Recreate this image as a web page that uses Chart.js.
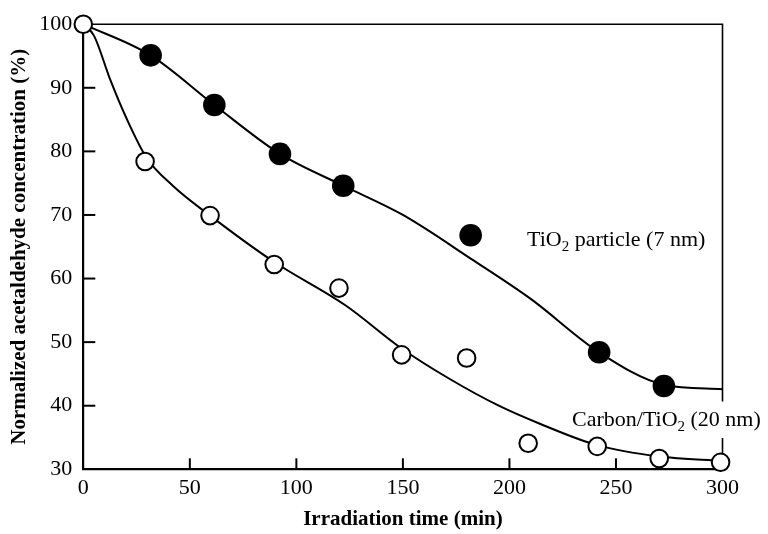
<!DOCTYPE html>
<html><head><meta charset="utf-8">
<script src="https://cdn.jsdelivr.net/npm/chart.js@4.4.0/dist/chart.umd.min.js"></script>
<style>html,body{margin:0;padding:0;background:#fff}</style>
</head><body>
<canvas id="c" width="768" height="534"></canvas>
<script>
// ---- data ----
const xTicks = [0, 50, 100, 150, 200, 250, 300];
const yTicks = [30, 40, 50, 60, 70, 80, 90, 100];

// TiO2 particle (7 nm) - filled circles
const tio2Time = [0, 31.6, 61.5, 92.3, 122.0, 181.8, 242.1, 272.5];
const tio2Conc = [100, 95.1, 87.3, 79.6, 74.6, 66.8, 48.4, 43.1];
// Carbon/TiO2 (20 nm) - open circles
const carbonTime = [0, 29.0, 59.5, 89.6, 120.0, 149.4, 179.9, 208.8, 241.2, 270.3, 299.1];
const carbonConc = [100, 78.4, 69.9, 62.2, 58.5, 48.0, 47.5, 34.1, 33.6, 31.7, 31.1];

// fitted curves
const tio2FitTime = [0, 31.6, 61.5, 92.3, 122, 150, 182, 210, 242.1, 272.5, 300];
const tio2FitConc = [100, 95.1, 87.3, 79.6, 74.6, 70.0, 63.1, 56.8, 48.4, 43.3, 42.6];
const carbonFitTime = [0, 5, 12.5, 20, 29.7, 42, 59.5, 89.6, 123, 149.4, 172, 195, 214, 241, 270.6, 300];
const carbonFitConc = [100, 98.2, 91.4, 85.4, 79.0, 74.6, 69.9, 62.6, 55.8, 49.0, 44.2, 40.0, 37.2, 33.8, 32.0, 31.3];

const labelTiO2 = ['TiO', '2', ' particle (7 nm)'];
const labelCarbon = ['Carbon/TiO', '2', ' (20 nm)'];

const toXY = (xs, ys) => xs.map((x, i) => ({x, y: ys[i]}));
const FONT = '"Liberation Serif", "Times New Roman", serif';

const decor = {
  id: 'decor',
  beforeDatasetsDraw(chart) {
    const {ctx, chartArea: a, scales: {x, y}} = chart;
    ctx.save();
    ctx.strokeStyle = '#000';
    ctx.lineCap = 'butt';
    ctx.lineWidth = 2;
    xTicks.forEach(v => {
      if (v === 0 || v === 300) return;
      const px = x.getPixelForValue(v);
      ctx.beginPath(); ctx.moveTo(px, a.bottom); ctx.lineTo(px, a.bottom - 11); ctx.stroke();
    });
    yTicks.forEach(v => {
      if (v === 30 || v === 100) return;
      const py = y.getPixelForValue(v);
      ctx.beginPath(); ctx.moveTo(a.left, py); ctx.lineTo(a.left + 12, py); ctx.stroke();
    });
    ctx.lineWidth = 1.6;
    ctx.beginPath();
    ctx.moveTo(a.left, a.top); ctx.lineTo(a.right, a.top);
    ctx.lineTo(a.right, 401.5);
    ctx.moveTo(a.right, 438); ctx.lineTo(a.right, a.bottom);
    ctx.stroke();
    ctx.restore();
  },
  afterDraw(chart) {
    const {ctx} = chart;
    const drawLabel = (parts, x0, base) => {
      ctx.save();
      ctx.fillStyle = '#000';
      ctx.textBaseline = 'alphabetic';
      ctx.textAlign = 'left';
      let xx = x0;
      ctx.font = '22px ' + FONT;
      ctx.fillText(parts[0], xx, base); xx += ctx.measureText(parts[0]).width;
      ctx.font = '15px ' + FONT;
      ctx.fillText(parts[1], xx, base + 5); xx += ctx.measureText(parts[1]).width;
      ctx.font = '22px ' + FONT;
      ctx.fillText(parts[2], xx, base);
      ctx.restore();
    };
    drawLabel(labelTiO2, 527, 246);
    drawLabel(labelCarbon, 572, 426);
  }
};

new Chart(document.getElementById('c'), {
  type: 'scatter',
  data: {
    datasets: [
      { data: toXY(carbonTime, carbonConc), order: 0, clip: false, showLine: false,
        pointRadius: 8.8, pointHoverRadius: 8.8, pointBackgroundColor: '#fff', pointBorderColor: '#000', pointBorderWidth: 2 },
      { data: toXY(tio2Time.slice(1), tio2Conc.slice(1)), order: 1, clip: false, showLine: false,
        pointRadius: 11.3, pointHoverRadius: 11.3, pointBackgroundColor: '#000', pointBorderColor: '#000', pointBorderWidth: 0 },
      { data: toXY(tio2FitTime, tio2FitConc), order: 2, clip: false, showLine: true, pointRadius: 0,
        borderColor: '#000', borderWidth: 2, cubicInterpolationMode: 'monotone' },
      { data: toXY(carbonFitTime, carbonFitConc), order: 3, clip: false, showLine: true, pointRadius: 0,
        borderColor: '#000', borderWidth: 2, cubicInterpolationMode: 'monotone' }
    ]
  },
  options: {
    responsive: false,
    animation: false,
    events: [],
    layout: { padding: { top: 22, right: 45.5, left: 0, bottom: 0 } },
    plugins: { legend: { display: false }, tooltip: { enabled: false } },
    scales: {
      x: {
        type: 'linear', min: 0, max: 300,
        afterBuildTicks: s => { s.ticks = xTicks.map(v => ({value: v})); },
        afterFit: s => { s.height = 64.7; },
        grid: { display: false, drawTicks: false },
        border: { display: true, color: '#000', width: 2.2 },
        ticks: { color: '#000', padding: 6, maxRotation: 0, autoSkip: false, font: { family: FONT, size: 22 } },
        title: { display: true, text: 'Irradiation time (min)', color: '#000', padding: { top: 0, bottom: 2 },
                 font: { family: FONT, size: 21, weight: 'bold' } }
      },
      y: {
        type: 'linear', min: 30, max: 100,
        afterBuildTicks: s => { s.ticks = yTicks.map(v => ({value: v})); },
        afterFit: s => { s.width = 83.3; },
        grid: { display: false, drawTicks: false },
        border: { display: true, color: '#000', width: 2.2 },
        ticks: { color: '#000', padding: 11, autoSkip: false, font: { family: FONT, size: 22 } },
        title: { display: true, text: 'Normalized acetaldehyde concentration (%)', color: '#000', padding: { top: 7, bottom: 0 },
                 font: { family: FONT, size: 21, weight: 'bold' } }
      }
    }
  },
  plugins: [decor]
});
</script>
</body></html>
